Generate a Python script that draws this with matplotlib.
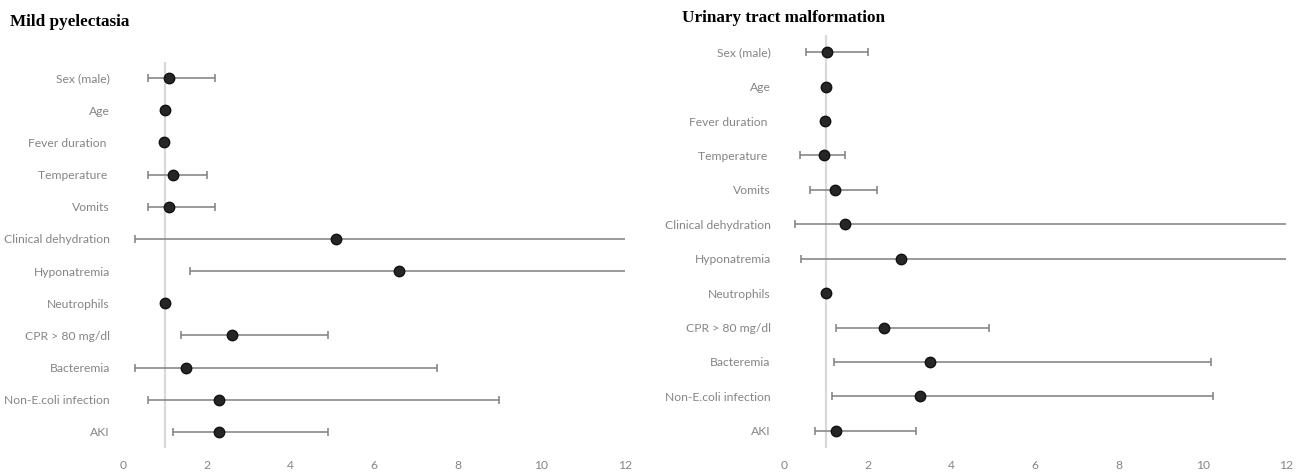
import matplotlib
matplotlib.use("Agg")
import matplotlib.pyplot as plt

# ── Data (odds ratio with 95% CI) ────────────────────────────────────────────
variables = ["Sex (male)", "Age", "Fever duration ", "Temperature ", "Vomits",
             "Clinical dehydration", "Hyponatremia", "Neutrophils",
             "CPR > 80 mg/dl", "Bacteremia", "Non-E.coli infection", "AKI"]

pyel_or    = [1.10, 1.00, 0.98, 1.19, 1.10, 5.10, 6.60, 1.00, 2.60, 1.50, 2.30, 2.30]
pyel_lower = [0.59, 0.97, 0.96, 0.59, 0.59, 0.29, 1.60, 0.98, 1.39, 0.29, 0.59, 1.20]
pyel_upper = [2.20, 1.03, 1.00, 2.00, 2.20, 14.0, 14.0, 1.02, 4.90, 7.50, 9.00, 4.90]

utm_or    = [1.02, 1.00, 0.98, 0.95, 1.22, 1.46, 2.80, 1.00, 2.40, 3.50, 3.25, 1.24]
utm_lower = [0.53, 0.95, 0.96, 0.38, 0.62, 0.26, 0.40, 0.98, 1.24, 1.20, 1.15, 0.74]
utm_upper = [2.02, 1.05, 1.00, 1.46, 2.23, 14.0, 14.0, 1.02, 4.90, 10.20, 10.25, 3.15]

xticks = [0, 2, 4, 6, 8, 10, 12]

GREY_TXT = "#858585"
GREY_BAR = "#7f7f7f"
GREY_REF = "#d9d9d9"
DOT      = "#262626"
LABEL_FONT = ["Lato", "DejaVu Sans"]
TITLE_FONT = ["Liberation Serif", "DejaVu Serif"]

fig = plt.figure(figsize=(13.02, 4.72), dpi=100)
fig.patch.set_facecolor("white")


def forest(ax, est, lo, hi):
    y = list(range(len(variables)))
    xerr = [[e - l for e, l in zip(est, lo)], [h - e for e, h in zip(est, hi)]]
    ax.axvline(1.0, color=GREY_REF, linewidth=1.6, zorder=1)
    ax.errorbar(est, y, xerr=xerr, fmt="o", color=GREY_BAR, ecolor=GREY_BAR,
                elinewidth=1.1, capsize=3, capthick=1.1,
                markersize=7.5, markerfacecolor=DOT, markeredgecolor="#111111",
                zorder=3)
    ax.set_xlim(0, 12)
    ax.set_ylim(len(variables) - 0.5, -0.5)
    ax.set_xticks(xticks)
    ax.set_xticklabels([str(t) for t in xticks], color=GREY_TXT, fontsize=8.7,
                       family=LABEL_FONT)
    ax.set_yticks(y)
    ax.set_yticklabels(variables, color=GREY_TXT, fontsize=8.7, family=LABEL_FONT)
    ax.tick_params(length=0, axis="y", pad=9.4)
    ax.tick_params(length=0, axis="x", pad=8.5)
    for s in ax.spines.values():
        s.set_visible(False)


ax1 = fig.add_axes([0.0945, 0.0508, 0.3855, 0.8178])
forest(ax1, pyel_or, pyel_lower, pyel_upper)
fig.text(10 / 1302, 1 - 22 / 472, "Mild pyelectasia", fontsize=12.3,
         fontweight="bold", family=TITLE_FONT, va="center", ha="left")

ax2 = fig.add_axes([0.602, 0.0508, 0.386, 0.875])
forest(ax2, utm_or, utm_lower, utm_upper)
fig.text(682 / 1302, 1 - 18 / 472, "Urinary tract malformation", fontsize=12.3,
         fontweight="bold", family=TITLE_FONT, va="center", ha="left")

plt.savefig("out.png", dpi=100)
plt.close()
